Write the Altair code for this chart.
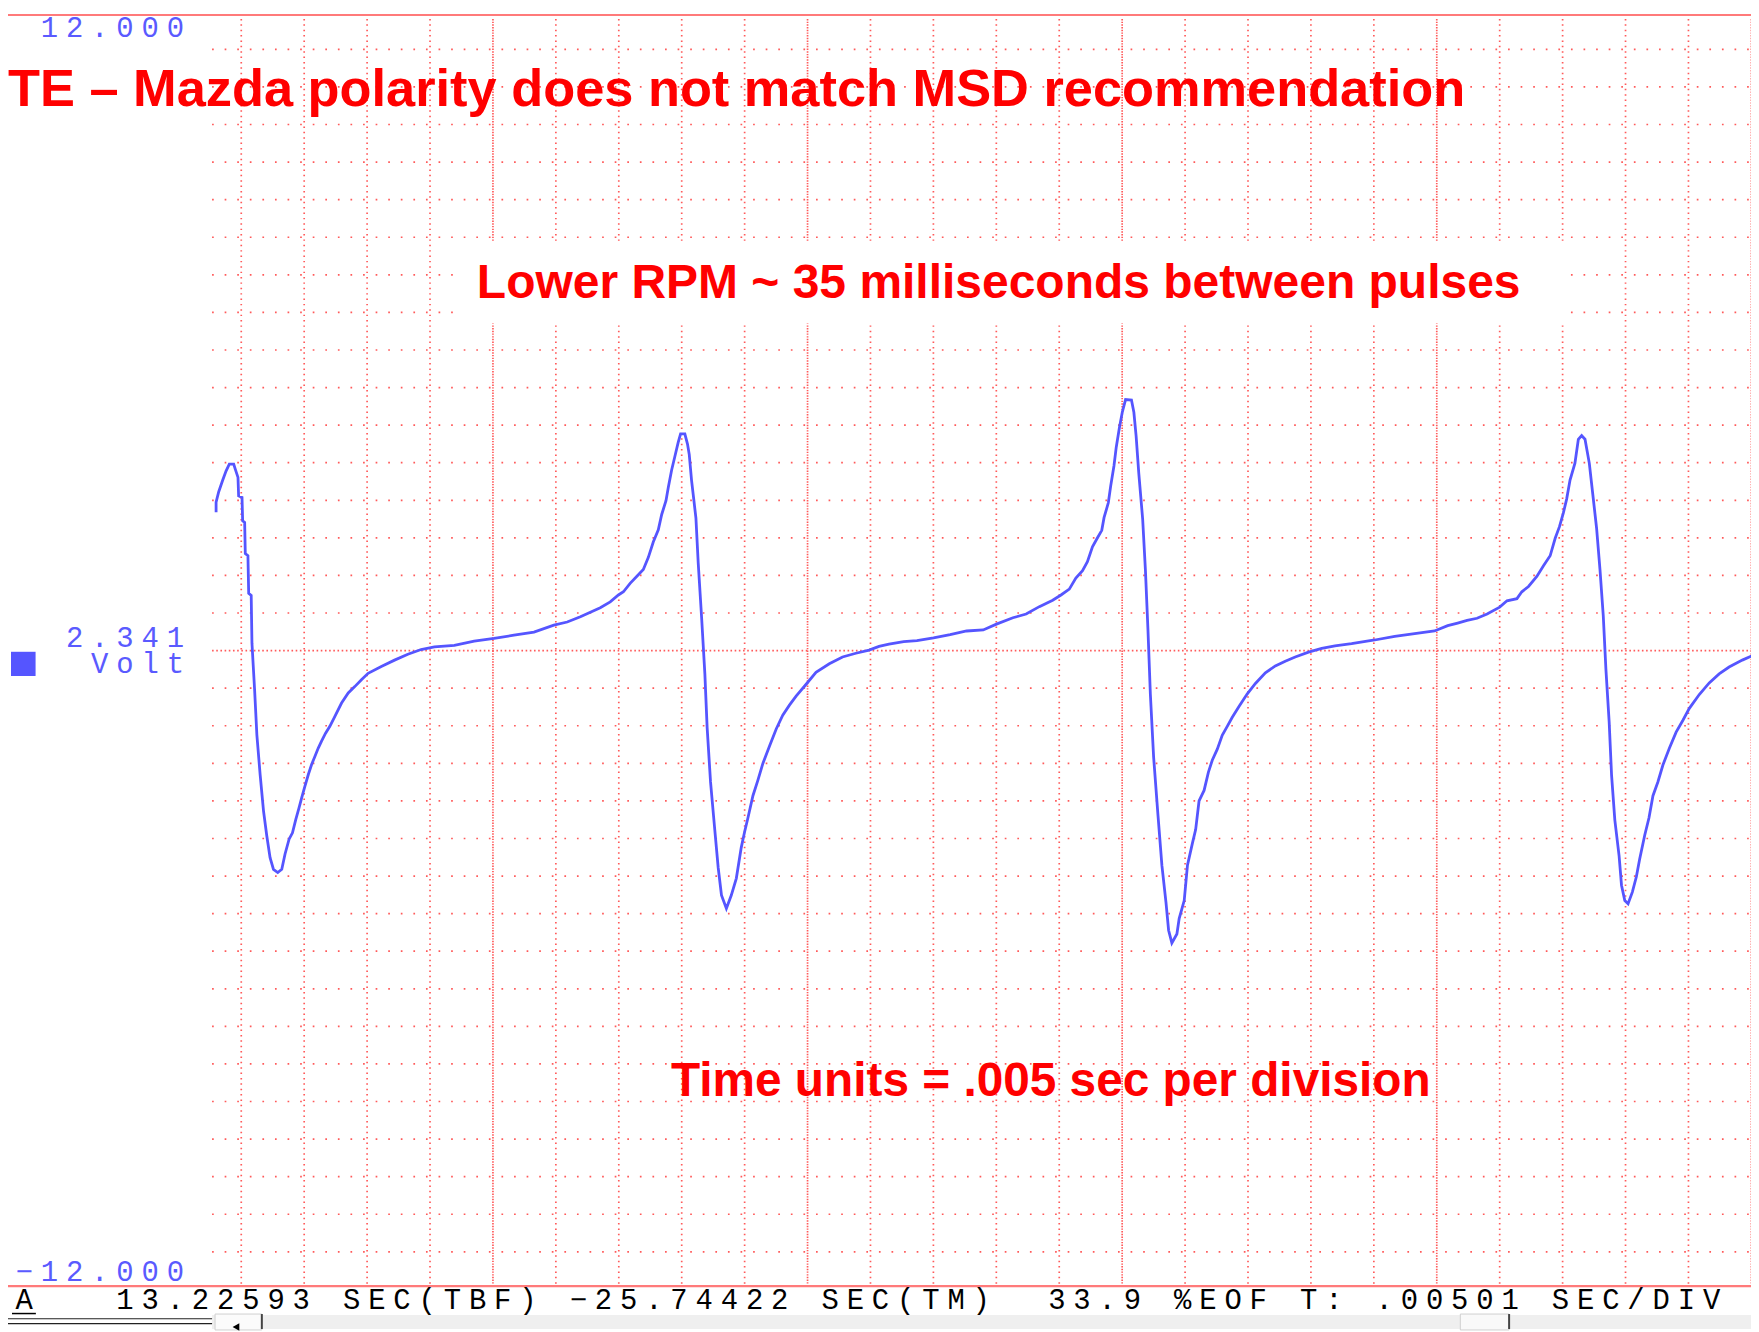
import altair as alt
import pandas as pd

# ---------------- data ----------------
# trace samples: time in ms from the left edge of the trace window, volts
t_ms = [0.08, 0.08, 0.29, 0.61, 0.87, 1.13, 1.48, 1.61, 1.82, 1.87, 2.14, 2.19, 2.35, 2.40, 2.61, 2.67, 2.87, 2.93,
        3.14, 3.32, 3.58, 3.85, 4.11, 4.37, 4.64, 4.98, 5.30, 5.56, 5.88, 6.15, 6.41, 6.67, 6.88, 7.14, 7.41, 7.67,
        7.93, 8.20, 8.46, 8.78, 9.12, 9.52, 10.05, 10.58, 11.10, 11.63, 12.16, 13.21, 14.26, 15.32, 16.37, 17.43,
        19.01, 20.59, 22.17, 23.75, 25.34, 26.92, 27.98, 29.03, 30.61,
        31.40, 32.05, 32.45, 32.98, 33.50, 34.03, 34.43, 34.82, 35.22, 35.49, 35.83, 36.02, 36.28, 36.54, 36.80,
        36.99, 37.33, 37.54, 37.68, 37.86, 38.05, 38.21, 38.39, 38.66, 38.92, 39.10, 39.37, 39.71, 39.98, 40.24,
        40.63, 41.02, 41.42, 41.81, 42.08, 42.34, 42.74, 43.13, 43.53, 44.06, 44.59, 45.11, 45.64, 46.17, 46.95,
        47.75, 48.81, 49.86, 50.92, 51.97, 52.76, 53.55,
        54.72, 55.77, 57.09, 58.41, 59.72, 61.04, 62.09, 63.40, 64.45, 65.50, 66.56, 67.22, 67.88, 68.40, 68.93,
        69.32, 69.72, 70.12, 70.46, 70.64, 70.98, 71.17, 71.43, 71.61, 71.87, 72.09, 72.35, 72.82, 73.01, 73.19,
        73.40, 73.71, 73.93, 74.13, 74.32, 74.58, 74.93, 75.24, 75.56, 75.77, 76.03, 76.43,
        76.61, 77.01, 77.27, 77.66, 77.92, 78.19, 78.59, 78.93, 79.24, 79.64, 80.03, 80.43, 80.83, 81.35, 82.01,
        82.67, 83.46, 84.25, 85.04, 85.83, 86.89, 87.94, 88.99, 90.31, 92.15, 93.74, 95.32, 96.90, 97.95, 98.74,
        99.49, 100.28, 101.08, 102.08, 102.66, 103.45, 103.84, 104.37, 105.03, 105.56, 106.09, 106.49, 106.83,
        107.14, 107.40, 107.67, 108.06, 108.33, 108.59, 108.86, 109.20, 109.46, 109.78, 110.05, 110.31, 110.52,
        110.78, 110.97, 111.23, 111.57, 111.76, 112.02, 112.28, 112.62, 112.94, 113.20, 113.60, 113.94, 114.26,
        114.65, 115.05, 115.57, 116.10, 116.63, 117.15, 117.94, 118.73, 119.52, 120.31, 121.36, 122.42]
volts = [2.61, 2.80, 3.00, 3.22, 3.39, 3.52, 3.52, 3.42, 3.27, 2.92, 2.89, 2.45, 2.42, 1.83, 1.79, 1.08, 1.04, 0.14,
         -0.74, -1.59, -2.34, -3.03, -3.50, -3.91, -4.13, -4.19, -4.13, -3.84, -3.56, -3.44, -3.19, -2.97, -2.78,
         -2.56, -2.34, -2.15, -2.00, -1.84, -1.71, -1.56, -1.43, -1.24, -0.99, -0.80, -0.68, -0.55, -0.43, -0.30,
         -0.18, -0.07, 0.02, 0.07, 0.10, 0.18, 0.23, 0.29, 0.35, 0.48, 0.54, 0.64, 0.81,
         0.92, 1.05, 1.11, 1.27, 1.40, 1.53, 1.76, 2.05, 2.28, 2.57, 2.83, 3.09, 3.41, 3.67, 3.93,
         4.09, 4.09, 3.90, 3.70, 3.22, 2.83, 2.50, 1.66, 0.63, -0.44, -1.45, -2.48, -3.39, -4.10, -4.62,
         -4.87, -4.62, -4.30, -3.72, -3.42, -3.16, -2.74, -2.45, -2.13, -1.80, -1.48, -1.22, -1.03, -0.86, -0.64,
         -0.41, -0.25, -0.12, -0.05, 0.01, 0.08, 0.12,
         0.17, 0.19, 0.24, 0.30, 0.37, 0.39, 0.50, 0.62, 0.69, 0.83, 0.95, 1.05, 1.16, 1.37, 1.51,
         1.68, 1.96, 2.13, 2.27, 2.51, 2.79, 3.11, 3.49, 3.84, 4.22, 4.50, 4.74, 4.73, 4.50, 4.05,
         3.35, 2.48, 1.51, 0.39, -0.82, -2.01, -3.12, -4.06, -4.75, -5.28, -5.52, -5.35,
         -5.06, -4.72, -4.05, -3.64, -3.38, -2.84, -2.64, -2.30, -2.07, -1.86, -1.60, -1.43, -1.26, -1.06, -0.82,
         -0.62, -0.42, -0.29, -0.20, -0.12, -0.03, 0.04, 0.09, 0.13, 0.20, 0.27, 0.32, 0.37, 0.47, 0.52,
         0.57, 0.61, 0.69, 0.82, 0.94, 0.98, 1.11, 1.21, 1.40, 1.60, 1.79, 2.12, 2.34,
         2.60, 2.86, 3.22, 3.54, 3.99, 4.06, 3.99, 3.54, 2.99, 2.31, 1.53, 0.66, -0.35,
         -1.35, -2.35, -3.20, -3.88, -4.43, -4.72, -4.78, -4.56, -4.27, -3.94, -3.49, -3.16, -2.74,
         -2.48, -2.16, -1.84, -1.54, -1.32, -1.09, -0.83, -0.61, -0.44, -0.31, -0.18, -0.07]

# grid (5 ms per time division, 16.9 divisions each side of 0 V over +-12 V)
t_grid_minor = [2.08 + 5 * k for k in range(25) if k % 5 != 4]
t_grid_major = [2.08 + 5 * k for k in range(25) if k % 5 == 4]
v_grid = [0.70947 * k for k in range(-16, 17) if k != 0]
v_center = [0.0]
v_frame = [12.0, -12.0]

# texts
title_txt = "TE \u2013 Mazda polarity does not match MSD recommendation"
rpm_txt = "Lower RPM ~ 35 milliseconds between pulses"
time_txt = "Time units = .005 sec per division"
lbl_top = "12.000"
lbl_mid = "2.341"
lbl_unit = "Volt"
lbl_bot = "\u221212.000"
status_txt = "A   13.22593 SEC(TBF) \u221225.74422 SEC(TM)  33.9 %EOF T: .00501 SEC/DIV"

# ---------------- layout ----------------
W, H = 1546, 1277
PAD = {"left": 205, "top": 4, "right": 0, "bottom": 43}
GRID = "#ff5a5a"
FRAME = "#ff7a7a"
TRACE = "#5555ff"
LABEL = "#5a5aff"
C0, PITCH = -188.7, 25.3
MONO = "Liberation Mono"
MONO_SIZE = 29

xs = alt.Scale(domain=[-0.24, 122.05], nice=False, zero=False)
ys = alt.Scale(domain=[-12, 12], nice=False, zero=False)

one = pd.DataFrame({"a": [0]})

h_grid = alt.Chart(pd.DataFrame({"v": v_grid})).mark_rule(
    color=GRID, strokeWidth=1.7, strokeDash=[1.7, 10.94]
).encode(y=alt.Y("v:Q", scale=ys, axis=None), x=alt.value(0), x2=alt.value(W))

c_grid = alt.Chart(pd.DataFrame({"v": v_center})).mark_rule(
    color=GRID, strokeWidth=1.7, strokeDash=[1.6, 2.6]
).encode(y=alt.Y("v:Q", scale=ys, axis=None), x=alt.value(0), x2=alt.value(W))

v_minor = alt.Chart(pd.DataFrame({"t": t_grid_minor})).mark_rule(
    color=GRID, strokeWidth=1.7, strokeDash=[1.5, 3.9]
).encode(x=alt.X("t:Q", scale=xs, axis=None), y=alt.value(4), y2=alt.value(H))

v_major = alt.Chart(pd.DataFrame({"t": t_grid_major})).mark_rule(
    color=GRID, strokeWidth=1.7, strokeDash=[1.4, 1.3]
).encode(x=alt.X("t:Q", scale=xs, axis=None), y=alt.value(4), y2=alt.value(H))

box_rpm = alt.Chart(one).mark_rect(color="white").encode(
    x=alt.value(247), x2=alt.value(1363), y=alt.value(228), y2=alt.value(310))

frame = alt.Chart(pd.DataFrame({"v": v_frame})).mark_rule(
    color=FRAME, strokeWidth=2.2
).encode(y=alt.Y("v:Q", scale=ys, axis=None), x=alt.value(-205), x2=alt.value(W))

trace = alt.Chart(pd.DataFrame({"t": t_ms, "v": volts, "i": list(range(len(t_ms)))})).mark_line(
    color=TRACE, strokeWidth=2.8, clip=True
).encode(x=alt.X("t:Q", scale=xs, axis=None), y=alt.Y("v:Q", scale=ys, axis=None), order="i:Q")


def red_text(txt, x, y, size):
    return alt.Chart(one).mark_text(
        text=txt, font="Liberation Sans", fontWeight="bold", fontSize=size, color="#ff0000",
        align="left", baseline="alphabetic"
    ).encode(x=alt.value(x), y=alt.value(y))


def mono_text(txt, col0, y, color):
    df = pd.DataFrame({"ch": list(txt), "col": [col0 + i for i in range(len(txt))]})
    df = df[df["ch"] != " "]
    return alt.Chart(df).transform_calculate(
        px=f"{C0} + datum.col * {PITCH}"
    ).mark_text(font=MONO, fontSize=MONO_SIZE, color=color, align="center", baseline="alphabetic").encode(
        x=alt.X("px:Q", scale=None, axis=None), y=alt.value(y), text="ch:N")


title = red_text(title_txt, -205, 91.5, 52.6)
rpm = red_text(rpm_txt, 266, 284, 48.2)
tunits = red_text(time_txt, 461, 1086, 48)

lab1 = mono_text(lbl_top, 1, 21.8, LABEL)
lab2 = mono_text(lbl_mid, 2, 634.5, LABEL)
lab3 = mono_text(lbl_unit, 3, 661, LABEL)
lab4 = mono_text(lbl_bot, 0, 1271.5, LABEL)
status = mono_text(status_txt, 0, 1300, "#000000")

swatch = alt.Chart(one).mark_rect(color=TRACE).encode(
    x=alt.value(-202), x2=alt.value(-177.3), y=alt.value(639.7), y2=alt.value(664))

underline = alt.Chart(one).mark_rule(color="black", strokeWidth=1.5).encode(
    x=alt.value(-201), x2=alt.value(-177), y=alt.value(1304.5))
dbl1 = alt.Chart(one).mark_rule(color="#222222", strokeWidth=1.2).encode(
    x=alt.value(-205), x2=alt.value(0), y=alt.value(1309.7))
dbl2 = alt.Chart(one).mark_rule(color="#222222", strokeWidth=1.2).encode(
    x=alt.value(-205), x2=alt.value(0), y=alt.value(1314.7))
sbar = alt.Chart(one).mark_rect(color="#efefef").encode(
    x=alt.value(0), x2=alt.value(W), y=alt.value(1306), y2=alt.value(1320))
lbtn = alt.Chart(one).mark_rect(color="#fbfbfb", stroke="#d0d0d0", strokeWidth=1).encode(
    x=alt.value(3), x2=alt.value(50), y=alt.value(1305), y2=alt.value(1321))
lbtn_edge = alt.Chart(one).mark_rule(color="#444444", strokeWidth=2).encode(
    x=alt.value(50), y=alt.value(1305), y2=alt.value(1320))
arrow = alt.Chart(one).mark_point(shape="triangle-left", filled=True, color="black", size=60, opacity=1).encode(
    x=alt.value(24), y=alt.value(1318))
rthumb = alt.Chart(one).mark_rect(color="#f9f9f9", stroke="#d0d0d0", strokeWidth=1).encode(
    x=alt.value(1254), x2=alt.value(1303), y=alt.value(1305), y2=alt.value(1321))
rthumb_edge = alt.Chart(one).mark_rule(color="#444444", strokeWidth=2).encode(
    x=alt.value(1303), y=alt.value(1305), y2=alt.value(1320))

chart = alt.layer(
    h_grid, c_grid, v_minor, v_major, box_rpm, frame, trace,
    title, rpm, tunits, lab1, lab2, lab3, lab4, status, swatch, underline,
    sbar, lbtn, lbtn_edge, arrow, rthumb, rthumb_edge, dbl1, dbl2
).properties(
    width=W, height=H, padding=PAD, autosize=alt.AutoSizeParams(type="none"), background="white"
).configure_view(stroke=None)

chart.save("out.html", embed_options={"renderer": "svg", "actions": False})
